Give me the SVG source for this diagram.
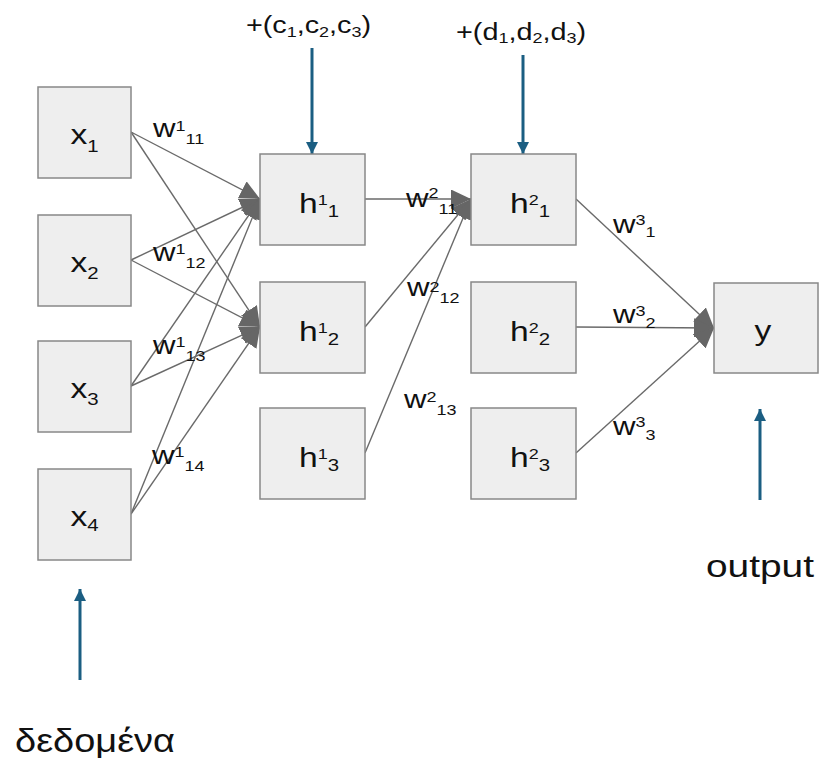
<svg xmlns="http://www.w3.org/2000/svg" width="819" height="762" viewBox="0 0 819 762">
<style>
.box{fill:#eeeeee;stroke:#888888;stroke-width:1.5}
.t{font-family:"Liberation Sans",Arial,sans-serif;fill:#111}
.n{font-size:28px}
.w{font-size:26px}
.s{font-size:15px}
.ns{font-size:17px}
.top{font-size:24px}
.edge{stroke:#6a6a6a;stroke-width:1.4;fill:none;marker-end:url(#ga)}
.blue{stroke:#1b5e82;stroke-width:3;fill:none;marker-end:url(#ba)}
</style>
<defs>
<marker id="ga" markerUnits="userSpaceOnUse" viewBox="0 0 20 19" markerWidth="20" markerHeight="19" refX="20" refY="9.5" orient="auto">
<path d="M0,0 L20,9.5 L0,19 Z" fill="#666666"/>
</marker>
<marker id="ba" markerUnits="userSpaceOnUse" viewBox="0 0 12 12" markerWidth="12" markerHeight="12" refX="12" refY="6" orient="auto">
<path d="M0,0 L12,6 L0,12 Z" fill="#1b5e82"/>
</marker>
</defs>
<rect width="819" height="762" fill="#ffffff"/>

<g id="connectors">
<path class="edge" d="M131,132 L260,199"/>
<path class="edge" d="M131,132 L260,327"/>
<path class="edge" d="M131,260 L260,199"/>
<path class="edge" d="M131,260 L260,327"/>
<path class="edge" d="M131,386 L260,199"/>
<path class="edge" d="M131,386 L260,327"/>
<path class="edge" d="M131,514 L260,199"/>
<path class="edge" d="M131,514 L260,327"/>
<path class="edge" d="M365,199 L471,199"/>
<path class="edge" d="M365,327 L471,199"/>
<path class="edge" d="M365,453 L471,199"/>
<path class="edge" d="M576,199 L714,328"/>
<path class="edge" d="M576,327 L714,328"/>
<path class="edge" d="M576,453 L714,328"/>
<path class="blue" d="M312,48 L312,154"/>
<path class="blue" d="M523,55 L523,154"/>
<path class="blue" d="M760,500 L760,409"/>
<path class="blue" d="M80,680 L80,589"/>
</g>

<g id="x1"><rect class="box" x="38" y="87" width="93" height="91"/>
<g transform="translate(84.5,144) scale(1.2,1)"><text class="t n" text-anchor="middle">x<tspan class="ns" dy="8">1</tspan></text></g></g>
<g id="x2"><rect class="box" x="38" y="215" width="93" height="91"/>
<g transform="translate(84.5,272) scale(1.2,1)"><text class="t n" text-anchor="middle">x<tspan class="ns" dy="7">2</tspan></text></g></g>
<g id="x3"><rect class="box" x="38" y="341" width="93" height="91"/>
<g transform="translate(84.5,398) scale(1.2,1)"><text class="t n" text-anchor="middle">x<tspan class="ns" dy="7">3</tspan></text></g></g>
<g id="x4"><rect class="box" x="38" y="469" width="93" height="91"/>
<g transform="translate(84.5,526) scale(1.2,1)"><text class="t n" text-anchor="middle">x<tspan class="ns" dy="5">4</tspan></text></g></g>

<g id="h1_1"><rect class="box" x="260" y="154" width="105" height="91"/>
<g transform="translate(299,213) scale(1.2,1)"><text class="t n">h<tspan class="s" dy="-8">1</tspan><tspan class="ns" dy="12">1</tspan></text></g></g>
<g id="h1_2"><rect class="box" x="260" y="282" width="105" height="91"/>
<g transform="translate(299,341) scale(1.2,1)"><text class="t n">h<tspan class="s" dy="-8">1</tspan><tspan class="ns" dy="12">2</tspan></text></g></g>
<g id="h1_3"><rect class="box" x="260" y="408" width="105" height="91"/>
<g transform="translate(299,467) scale(1.2,1)"><text class="t n">h<tspan class="s" dy="-8">1</tspan><tspan class="ns" dy="12">3</tspan></text></g></g>

<g id="h2_1"><rect class="box" x="471" y="154" width="105" height="91"/>
<g transform="translate(510,213) scale(1.2,1)"><text class="t n">h<tspan class="s" dy="-8">2</tspan><tspan class="ns" dy="12">1</tspan></text></g></g>
<g id="h2_2"><rect class="box" x="471" y="282" width="105" height="91"/>
<g transform="translate(510,341) scale(1.2,1)"><text class="t n">h<tspan class="s" dy="-8">2</tspan><tspan class="ns" dy="12">2</tspan></text></g></g>
<g id="h2_3"><rect class="box" x="471" y="408" width="105" height="91"/>
<g transform="translate(510,467) scale(1.2,1)"><text class="t n">h<tspan class="s" dy="-8">2</tspan><tspan class="ns" dy="12">3</tspan></text></g></g>

<g id="y"><rect class="box" x="714" y="283" width="104" height="90"/>
<g transform="translate(763,340) scale(1.2,1)"><text class="t n" text-anchor="middle">y</text></g></g>

<g id="edge-labels">
<g transform="translate(153,137) scale(1.2,1)"><text class="t w">w<tspan class="s" dy="-6">1</tspan><tspan class="s" dy="13">11</tspan></text></g>
<g transform="translate(153,261) scale(1.2,1)"><text class="t w">w<tspan class="s" dy="-7">1</tspan><tspan class="s" dy="14">12</tspan></text></g>
<g transform="translate(153,354) scale(1.2,1)"><text class="t w">w<tspan class="s" dy="-7">1</tspan><tspan class="s" dy="14">13</tspan></text></g>
<g transform="translate(152,464) scale(1.2,1)"><text class="t w">w<tspan class="s" dy="-7">1</tspan><tspan class="s" dy="14">14</tspan></text></g>
<g transform="translate(406,207) scale(1.2,1)"><text class="t w">w<tspan class="s" dy="-9">2</tspan><tspan class="s" dy="16">11</tspan></text></g>
<g transform="translate(407,296) scale(1.2,1)"><text class="t w">w<tspan class="s" dy="-4">2</tspan><tspan class="s" dy="11">12</tspan></text></g>
<g transform="translate(404,408) scale(1.2,1)"><text class="t w">w<tspan class="s" dy="-6">2</tspan><tspan class="s" dy="13">13</tspan></text></g>
<g transform="translate(613,233) scale(1.2,1)"><text class="t w">w<tspan class="s" dy="-8">3</tspan><tspan class="s" dy="12">1</tspan></text></g>
<g transform="translate(613,323) scale(1.2,1)"><text class="t w">w<tspan class="s" dy="-7">3</tspan><tspan class="s" dy="12">2</tspan></text></g>
<g transform="translate(613,435) scale(1.2,1)"><text class="t w">w<tspan class="s" dy="-8">3</tspan><tspan class="s" dy="13">3</tspan></text></g>
</g>

<g id="labels">
<g transform="translate(308.5,33) scale(1.2,1)"><text class="t top" text-anchor="middle">+(c<tspan class="s" dy="4">1</tspan><tspan dy="-4">,c</tspan><tspan class="s" dy="4">2</tspan><tspan dy="-4">,c</tspan><tspan class="s" dy="4">3</tspan><tspan dy="-4">)</tspan></text></g>
<g transform="translate(521,40) scale(1.2,1)"><text class="t top" text-anchor="middle">+(d<tspan class="s" dy="3">1</tspan><tspan dy="-3">,d</tspan><tspan class="s" dy="3">2</tspan><tspan dy="-3">,d</tspan><tspan class="s" dy="3">3</tspan><tspan dy="-3">)</tspan></text></g>
<text class="t" x="706" y="577" font-size="32" textLength="108" lengthAdjust="spacingAndGlyphs">output</text>
<text class="t" x="15" y="752" font-size="34" textLength="160" lengthAdjust="spacingAndGlyphs">δεδομένα</text>
</g>
</svg>
